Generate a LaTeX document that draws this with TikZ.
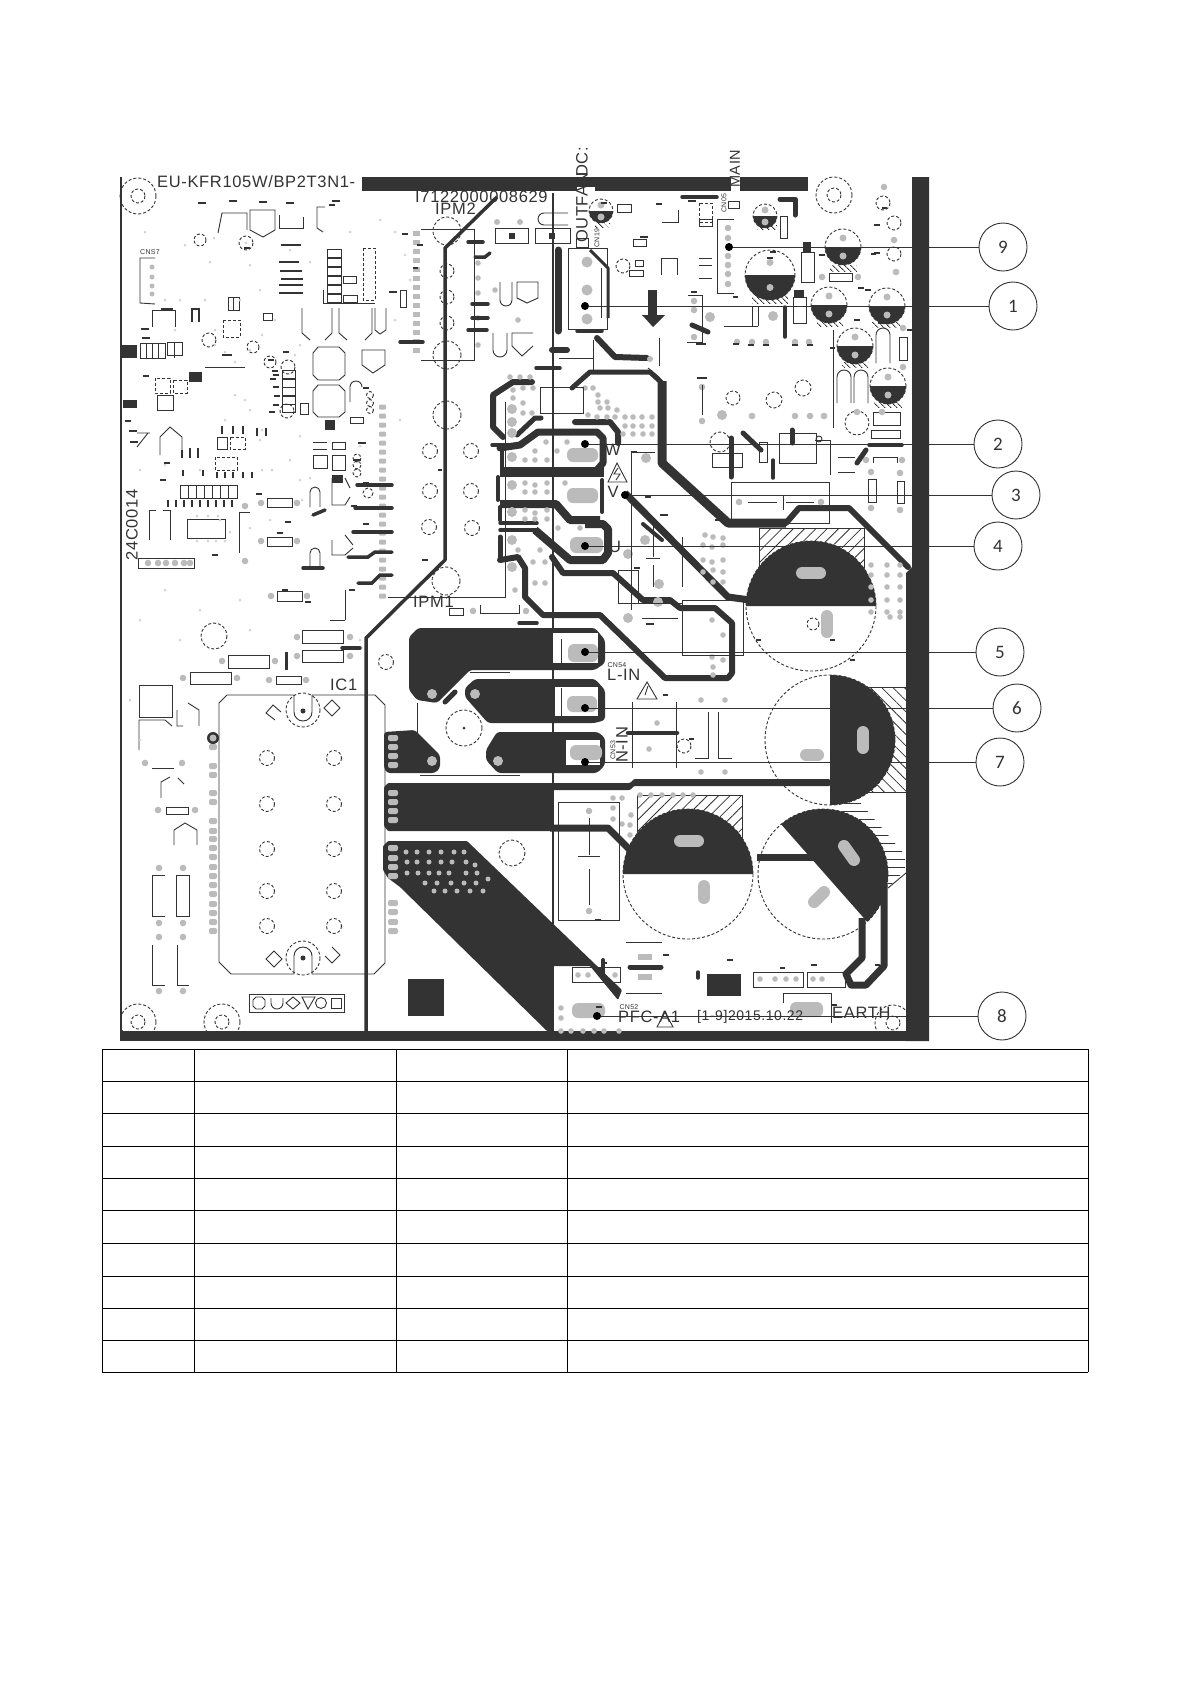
\documentclass[tikz,border=0pt]{standalone}
\usepackage{fontspec}
\usepackage{tikz}
\usetikzlibrary{patterns.meta}
\newfontfamily\pcbfont[LetterSpace=4]{Liberation Sans}
\newfontfamily\numfont{Carlito}
\definecolor{pcbdark}{HTML}{333333}
\definecolor{padgrey}{HTML}{BBBBBB}
\definecolor{fleck}{HTML}{D4D4D4}
\tikzset{
    % Copper
    pour/.style={fill=pcbdark, rounded corners=3pt},
    trace/.style={draw=pcbdark, line width=6pt, line join=round, line cap=round},
    wire/.style={draw=pcbdark, line width=3.5pt, line cap=round},
    % Silk screen
    silk/.style={draw=pcbdark, line width=0.9pt},
    hole/.style={draw=pcbdark, line width=0.9pt, dash pattern=on 3pt off 2pt},
    hatchbox/.style={draw=pcbdark, line width=0.7pt, pattern={Lines[angle=45,distance=8pt,line width=0.8pt]}, pattern color=pcbdark},
    minihatch/.style={pattern={Lines[angle=-45,distance=4pt,line width=1pt]}, pattern color=pcbdark},
    % Pads
    pad/.style={fill=padgrey},
    slot/.style={draw=padgrey, line width=12pt, line cap=round},
    smudge/.style={fill=pcbdark},
    % Labels
    pcblabel/.style={inner sep=0pt, text=pcbdark, font=\pcbfont\fontsize{16.5}{16.5}\selectfont},
    tinylabel/.style={inner sep=0pt, text=pcbdark, font=\pcbfont\fontsize{7}{7}\selectfont},
    % Call-outs
    callout/.style={circle, draw=pcbdark, line width=0.9pt, minimum size=48pt, inner sep=0pt, text=pcbdark, font=\numfont\fontsize{19}{19}\selectfont},
    leaddot/.style={circle, fill=black, inner sep=0pt, minimum size=8pt},
    leader/.style={draw=pcbdark, line width=1pt}
}
\newcommand{\elcap}[3]{% lower half dark, with its pads
    \draw[hole] (#1,#2) circle (#3);
    \fill[pcbdark] (#1-#3,#2) arc[start angle=180, end angle=0, radius=#3] -- cycle;
    \fill[pad] (#1,#2-#3/2) circle (3.5);
    \fill[pad] (#1,#2+#3/2) circle (3.5);
}
\begin{document}
\begin{tikzpicture}[x=1pt, y=-1pt]
    \useasboundingbox (0,0) rectangle (1191,1684);
    \fill[white] (0,0) rectangle (1191,1684);

    % Hatched keep-outs under the big capacitors
    \draw[hatchbox] (759,528) rectangle (864,590);
    \draw[hatchbox, pattern={Lines[angle=-45,distance=8pt,line width=0.8pt]}] (860,687) rectangle (906,792);
    \draw[hatchbox] (637,795) rectangle (742,840);
    \fill[pattern={Lines[angle=0,distance=8pt,line width=1pt]}, pattern color=pcbdark] (823,808) -- (858,800) -- (905,855) -- (905,870) -- (888,888) -- cycle;

    % Big capacitors
    \fill[white] (811,606) circle (65);
    \draw[hole] (811,606) circle (65);
    \fill[pcbdark] (746,606) arc[start angle=180, end angle=360, radius=65] -- cycle;
    \draw[slot] (802,573) -- (820,573);
    \draw[slot] (827,616) -- (827,632);
    \draw[hole] (813,624) circle (6);

    \fill[white] (830,740) circle (65);
    \draw[hole] (830,740) circle (65);
    \fill[pcbdark] (830,675) arc[start angle=-90, end angle=90, radius=65] -- cycle;
    \draw[slot] (863,732) -- (863,748);
    \draw[slot] (806,755) -- (818,755);

    \fill[white] (688,874) circle (65);
    \draw[hole] (688,874) circle (65);
    \fill[pcbdark] (623,874) arc[start angle=180, end angle=360, radius=65] -- cycle;
    \draw[slot] (680,841) -- (698,841);
    \draw[slot] (704,886) -- (704,898);

    \fill[white] (823,874) circle (65);
    \draw[hole] (823,874) circle (65);
    \begin{scope}
        \clip (823,874) circle (65);
        \fill[pcbdark] (780,823) -- (870,925) -- (950,850) -- (850,770) -- cycle;
    \end{scope}
    \draw[slot] (844,846) -- (854,860);
    \draw[slot] (814,902) -- (824,892);
    \draw[trace, line width=7pt, line cap=butt] (757,857) -- (815,857);
    \draw[trace, line width=7pt, line cap=butt] (862,918) -- (862,958) -- (846,974) -- (851,985) -- (866,985) -- (884,966) -- (884,885);
    \draw[silk] (912,868) -- (888,888);

    % Board edge
    \draw[silk, line width=1.3pt] (121,177) -- (121,1035);
    \fill[pcbdark] (120,1031) rectangle (929,1041);
    \fill[pcbdark] (362,177) rectangle (731,191);
    \fill[pcbdark] (740,177) rectangle (808,191);
    \fill[pcbdark] (912,177) -- (929,177) -- (929,1041) -- (906,1041) -- (906,573) -- (912,567) -- cycle;
    \fill[white] (577,187) rectangle (595,191);

    % Isolation line and HV rail
    \draw[silk, line width=1.2pt] (553,193) -- (553,1031);
    \draw[trace, line width=3.5pt, line cap=butt] (497,197) -- (445,248) -- (445,560) -- (366,638) -- (366,1031);

    % Copper pours of the input stage
    \fill[pour] (409,637) -- (418,628) -- (595,628) -- (605,640) -- (605,663) -- (595,670) -- (470,670) -- (437,703) -- (417,700) -- (409,690) -- cycle;
    \fill[pour] (465,688) -- (475,679) -- (595,679) -- (605,690) -- (605,720) -- (595,723) -- (488,723) -- (465,697) -- cycle;
    \fill[pour] (497,732) -- (598,732) -- (605,738) -- (605,765) -- (597,773) -- (498,773) -- (486,760) -- (486,750) -- cycle;
    \fill[pour] (384,732) -- (415,730) -- (440,755) -- (440,768) -- (435,773) -- (387,773) -- (384,768) -- cycle;
    \fill[pour, rounded corners=1pt] (384,787) -- (388,783) -- (630,783) -- (634,779) -- (830,779) -- (830,786) -- (634,786) -- (630,790) -- (553,790) -- (553,831) -- (388,831) -- (384,826) -- cycle;
    \draw[trace, line width=7pt, line cap=butt] (550,828) -- (608,828) -- (632,852);
    \fill[pour, rounded corners=1pt] (383,846) -- (388,841) -- (467,841) -- (622,990) -- (618,1000) -- (590,966) -- (553,966) -- (553,1031) -- (547,1031) -- (400,887) -- (388,878) -- (383,870) -- cycle;
    \draw[wire, line width=4pt] (603,960) -- (603,978);
    \fill[pcbdark] (408,979) rectangle (444,1016);
    \fill[pcbdark] (707,974) rectangle (741,996);
    \draw[trace, line width=5pt, rounded corners=2pt] (445,702) -- (455,692);
    \draw[silk] (417,703) -- (417,773) (470,672) -- (510,672) (420,775) -- (520,775);

    % Pad windows in the pours
    \fill[white] (553,633) rectangle (598,663);
    \fill[white] (555,687) rectangle (598,716);
    \fill[white] (566,740) rectangle (600,765);
    \fill[pad, rounded corners=6pt] (568,644) rectangle (598,662);
    \fill[pad, rounded corners=6pt] (567,696) rectangle (597,712);
    \fill[pad, rounded corners=6pt] (570,745) rectangle (602,760);
    \draw[silk] (561,639) -- (561,663);
    \draw[silk] (561,688) -- (561,716);
    \fill[pad, rounded corners=6pt] (572,1003) rectangle (605,1018);
    \fill[pad, rounded corners=6pt] (790,1002) rectangle (823,1017);

    % Phase output rings W V U
    \draw[trace] (532,382) -- (513,382) -- (493,395) -- (493,427) -- (503,437);
    \draw[trace, line width=5pt] (517,435) -- (535,418) -- (541,418);
    \draw[wire] (492,445) -- (518,445);
    \draw[trace, line width=7pt] (500,448) -- (520,445) -- (538,432) -- (597,432) -- (603,438) -- (603,463) -- (597,470);
    \draw[trace, line width=4pt] (502,448) -- (502,467);
    \fill[pcbdark] (500,467) rectangle (604,477);
    \draw[trace] (575,422) -- (610,422) -- (618,432) -- (618,443);
    \draw[trace, line width=4pt] (498,477) -- (498,500);
    \draw[trace, line width=8pt, line cap=butt] (500,504) -- (556,504) -- (570,520) -- (600,520);
    \draw[trace, line width=4pt] (602,480) -- (602,512);
    \draw[trace, line width=4pt] (500,507) -- (500,520);
    \draw[wire] (500,523) -- (537,523);
    \draw[wire] (500,530) -- (537,530);
    \draw[trace, line width=8pt, line cap=butt] (535,530) -- (570,560) -- (603,560) -- (608,553) -- (608,529) -- (603,524) -- (585,524);
    \draw[trace, line width=5pt] (500,537) -- (500,557);
    \draw[trace] (500,560) -- (518,557) -- (525,568) -- (525,597) -- (543,615) -- (600,615) -- (665,678) -- (728,678) -- (732,673) -- (732,623) -- (715,608) -- (680,608) -- (670,600) -- (643,600) -- (613,573) -- (563,573) -- (552,557);
    \draw[trace, line width=5pt] (572,388) -- (590,372) -- (650,372) -- (662,383);
    \draw[trace, line width=9pt, line cap=butt] (662,381) -- (662,463) -- (728,523) -- (786,523);
    \draw[trace] (786,523) -- (799,508) -- (849,508) -- (908,567);
    \draw[trace, line width=7pt, line cap=butt] (625,493) -- (728,597) -- (750,600);
    \draw[trace, line width=4pt] (643,524) -- (662,540);
    \draw[trace] (597,338) -- (615,357) -- (647,358);
    \fill[pad] (650,359) circle (3);
    \draw[silk] (648,368) -- (660,378);
    \fill[pad, rounded corners=6pt] (567,448) rectangle (598,462);
    \fill[pad, rounded corners=6pt] (567,488) rectangle (598,503);
    \fill[pad, rounded corners=6pt] (570,537) rectangle (603,553);

    % Grey pad groups
    \foreach \x/\y in {513/390,523/388,533/388,513/398,523/403,523/413,532/413,585/388,593/388,598/395,598/402,607/402,600/408,608/408,617/410,588/415,597/417,607/417,615/417,625/417,633/417,642/417,652/417,625/426,633/426,642/426,652/426,623/434,633/434,643/434,652/434,546/442,567/442,535/451,557/451,525/460,535/460,547/460,525/483,535/485,547/483,565/483,525/492,535/492,547/492,525/510,535/513,547/510,525/519,535/519,547/519,558/528,580/528,518/550,540/550,533/562,545/562,535/583,545/583,705/535,713/537,723/538,703/545,712/547,723/545,703/560,712/562,723/560,703/572,713/570,723/572,713/582,723/582,613/798,622/798,613/808,631/815,613/819,622/824,630/825,630/835,640/795,651/795,662/795,673/795,683/795,693/795,712/620,723/635,712/657,723/660,713/667,713/675,701/700,725/700,701/772,725/772,657/723,649/749,871/565,887/565,900/565,871/575,887/575,900/575,871/587,887/587,900/587,871/600,887/600,900/600,871/612,887/612,900/612,890/617,900/617,561/1008,561/1018,578/975,588/975,615/975,561/1031,571/1031,583/1031,594/1031,604/1031,619/1031,760/979,775/979,786/979,796/979,813/979,822/979,478/263,478/278,478/293,478/318,478/345,510/377,520/377,530/377,495/290,518/320,515/590}
        \fill[pad] (\x,\y) circle (2.8);
    \foreach \x/\y in {512/409,512/422,512/433,512/457,512/485,512/512,512/540,512/567,646/458,645/540,628/554,628/618,659/584,658/602,722/415,710/317,773/316,432/694,475/694,498/761,432/761}
        \fill[pad] (\x,\y) circle (5);

    % Pads along the pour edges
    \foreach \y in {738,747,756,765,793,802,811,820,848,858,867,876,903,912,922,931}
        \fill[pad, rounded corners=2pt] (388,\y-3) rectangle (398,\y+3);
    \foreach \y in {747,766,775,793,802,821,831,839,848,857,867,876,885,894,904,913,922,931}
        \fill[pad, rounded corners=2pt] (209,\y-3) rectangle (217,\y+3);
    \fill[pcbdark] (213,738) circle (6);
    \fill[pad] (213,738) circle (3.5);
    \foreach \y in {233,242,...,357}
        \fill[pad] (413,\y-2.5) rectangle (420,\y+2.5);
    \foreach \y in {407,416,...,600}
        \fill[pad, rounded corners=1pt] (379,\y-2.5) rectangle (386,\y+2.5);
    \foreach \x/\y in {406/852,417/852,429/852,441/852,454/852,464/852,407/862,417/862,429/862,441/862,452/862,466/862,475/865,407/873,418/873,429/873,439/873,449/873,466/873,477/873,425/883,437/883,451/883,464/883,476/883,488/879,434/891,445/891,457/891,470/891,483/891}
        \fill[pad] (\x,\y) circle (2.5);

    % IC1 outline and mounting holes
    \draw[silk] (227,695) -- (294,695) (312,695) -- (375,695) -- (385,705) -- (385,963) -- (374,974) -- (312,974) (294,974) -- (231,974) -- (219,962) -- (219,703) -- (227,695);
    \draw[hole] (303,710) circle (17);
    \draw[silk] (294,695) -- (294,712) arc[start angle=180, end angle=0, radius=9] -- (312,695);
    \fill[pcbdark] (303,711) circle (2.5);
    \draw[hole] (303,958) circle (17);
    \draw[silk] (294,974) -- (294,956) arc[start angle=180, end angle=360, radius=9] -- (312,974);
    \fill[pcbdark] (303,958) circle (2.5);
    \draw[silk] (332,700) -- (340,708) -- (332,716) -- (324,708) -- cycle;
    \draw[silk] (275,720) -- (266,713) -- (273,705) -- (281,712);
    \draw[silk] (274,951) -- (282,959) -- (274,967) -- (266,959) -- cycle;
    \draw[silk] (332,947) -- (340,955) -- (332,963) -- (325,956);
    \foreach \x in {267,334}
        \foreach \y in {758,804,849,891,926}
            \draw[hole] (\x,\y) circle (7.5);
    \draw[silk] (249,994) rectangle (344,1012);
    \draw[silk] (253,1000) -- (256,997) -- (262,997) -- (265,1000) -- (265,1006) -- (262,1009) -- (256,1009) -- (253,1006) -- cycle;
    \draw[silk] (271,998) -- (271,1003) arc[start angle=180, end angle=0, radius=6] -- (283,998);
    \draw[silk] (293,997) -- (300,1003) -- (293,1009) -- (286,1003) -- cycle;
    \draw[silk] (302,997) -- (315,997) -- (308,1009) -- cycle;
    \draw[silk] (321,1003) circle (5.5);
    \draw[silk] (331,998) rectangle (341,1008);

    % Mounting holes
    \foreach \x/\y in {138/196,834/195}
    {
        \draw[hole] (\x,\y) circle (18);
        \draw[hole] (\x,\y) circle (7);
    }
    \begin{scope}
        \clip (120,960) rectangle (906,1031);
        \foreach \x/\y in {138/1022,222/1022,893/1023}
        {
            \draw[hole] (\x,\y) circle (18);
            \draw[hole] (\x,\y) circle (7);
        }
    \end{scope}

    % Dashed circles on the heat-sink strip
    \foreach \x/\y/\r in {447/231/14,447/271/7,447/297/7,447/323/7,447/355/14,447/415/14,430/451/7.5,471/451/7.5,430/491/7.5,471/491/7.5,429/527/7.5,472/528/7.5,446/581/14,214/636/13,386/662/7.5,512/853/13,803/388/8,774/400/8,733/398/7,857/423/12,883/203/7,894/223/7,894/254/7,720/442/10,684/746/7}
        \draw[hole] (\x,\y) circle (\r);
    \draw[hole] (464,728) circle (18);
    \fill[pcbdark] (464,728) circle (1.5);
    \draw[silk] (421,229) -- (474,229) -- (474,360) -- (421,360);
    \draw[silk] (388,597) -- (505,597) -- (505,402);

    % Short fat wires in the IPM column
    \foreach \xa/\ya/\xb/\yb in {468/242/483/242,472/304/488/304,472/318/488/318,468/330/487/330,400/342/423/342,536/368/560/368,357/485/392/485,355/508/392/508,353/532/392/532,303/568/323/568,313/515/325/510,519/623/537/623,342/648/360/648,682/197/717/197,869/445/902/445}
        \draw[wire] (\xa,\ya) -- (\xb,\yb);
    \draw[wire] (475,257) -- (485,257) -- (490,253);
    \draw[wire] (348,557) -- (368,557) -- (375,552) -- (392,552);
    \draw[wire] (358,583) -- (372,583) -- (380,575) -- (392,575);
    \draw[trace, line width=7pt] (558,250) -- (558,331);
    \draw[wire] (577,331) -- (602,331);
    \draw[wire, line width=6pt] (552,350) -- (567,350);
    \draw[silk] (559,358) -- (593,358) (593,340) -- (593,370);
    \draw[silk] (659,338) -- (659,366);

    % Connectors and boxes, upper middle
    \draw[silk] (495,228) rectangle (528,243);
    \draw[silk] (535,228) rectangle (570,243);
    \fill[smudge] (509,233) rectangle (515,239);
    \fill[smudge] (549,233) rectangle (555,239);
    \foreach \x/\y in {497/222,520/222} \fill[pad] (\x,\y) circle (3);
    \draw[silk] (568,225) -- (544,225) arc[start angle=90, end angle=270, radius=6] -- (568,213);
    \draw[silk] (568,248) rectangle (607,329);
    \draw[trace, line width=3pt, line cap=butt] (590,250) -- (608,268) -- (608,318);
    \draw[silk] (601,268) -- (601,318);
    \foreach \y in {262,290,319} \fill[pad] (587,\y) circle (5.5);
    \draw[silk] (576,238) rectangle (588,247);
    \fill[smudge] (648,290) rectangle (657,315);
    \fill[smudge] (642,315) -- (665,315) -- (653,327) -- cycle;
    \foreach \x/\y/\w/\h in {617/204/14/8,633/239/13/7,635/260/8/6,629/270/14/6,699/219/13/7,728/201/11/7,780/216/7/22,327/249/14/8,327/258/14/8,327/267/14/8,327/276/14/8,327/285/14/8,327/294/14/8,343/276/13/7,343/295/14/7,400/290/6/17,282/370/13/8,282/379/13/8,282/387/13/8,282/396/13/8,282/404/13/8,166/807/22/7,267/498/25/9,267/537/25/9,277/591/25/10,302/630/41/13,302/650/41/12,228/655/41/13,190/672/41/12,276/676/25/8,829/273/23/8,899/337/8/23,868/479/8/23,897/481/7/22,759/442/8/20,731/482/98/41,712/453/30/14,779/433/37/30,873/412/27/13,871/430/29/8,753/972/50/15,807/972/38/15,139/685/33/32,180/485/57/13,187/519/38/19,138/558/56/10,140/343/25/15,167/342/15/13,618/570/20/33,682/600/61/55,558/802/61/118,572/967/48/15,228/297/11/13,263/313/9/7,300/403/8/11,157/395/16/15,217/437/10/12,350/417/13/6,332/442/13/7,313/455/14/13,332/455/13/15}
        \draw[silk] (\x,\y) rectangle ++(\w,\h);
    \draw[silk] (783,1003) -- (783,993) -- (831,993) -- (831,1023);
    \foreach \x in {188,196,204,212,220,228} \draw[silk] (\x,485) -- (\x,498);
    \foreach \x in {146,152,158,174} \draw[silk] (\x,343) -- (\x,358);
    \fill[pcbdark] (121,345) rectangle (137,358);
    \fill[pcbdark] (123,400) rectangle (137,408);
    \fill[pcbdark] (189,372) rectangle (202,382);
    \fill[pcbdark] (325,420) rectangle (335,430);
    \fill[pcbdark] (332,475) rectangle (343,483);
    \draw[silk] (155,258) -- (140,258) -- (140,303) -- (155,304);
    \foreach \y in {267,277,286,294} \fill[pad] (152,\y) circle (2.5);
    \foreach \x/\y in {148/563,158/563,166/563,175/563,184/563,190/563,261/503,297/503,261/541,297/541,271/596,307/596,245/506,245/561,297/637,350/637,297/656,350/656,222/661,275/661,183/678,237/678,269/680,306/680,158/810,195/810,159/868,183/868,159/923,183/923,159/937,183/937,159/991,183/991,145/763,182/763,822/277,858/277,903/328,903/367,871/472,871/508,900/473,900/510,866/460,902/460,739/502,821/502,589/811,589/911,694/301,694/310,694/337,702/387,702/421,473/611,526/611,737/342,752/342,766/342,795/342,809/342,723/416,752/416,795/416,810/416,824/416,728/228,728/238,728/256,728/265,728/274,728/284,884/187,857/412,882/412,894/240,896/272}
        \fill[pad] (\x,\y) circle (3.3);
    \draw[silk] (239,553) -- (239,512) -- (250,512);
    \draw[silk] (480,605) -- (480,613) -- (519,613) -- (519,605);
    \draw[silk] (449,608) rectangle (463,615);
    \draw[silk] (323,290) -- (323,303) -- (375,303);
    \draw[hole] (363,248) rectangle (375,300);
    \draw[silk] (540,387) rectangle (583,413);
    \draw[silk] (631,610) -- (631,452) -- (655,452);
    \draw[silk] (631,603) -- (682,603);
    \draw[silk] (682,537) -- (682,587);
    \draw[silk] (653,523) -- (653,557) (646,558) -- (660,558) (653,565) -- (653,587);
    \draw[silk] (642,618) -- (678,618);

    % Capacitor and regulator outlines, left side
    \foreach \xa/\xb/\ya/\yb in {302/332/308/333,339/372/308/333}
        \draw[silk] (\xa,\ya) -- (\xa,\yb) -- (\xa+8,\yb+7) (\xb,\ya) -- (\xb,\yb) -- (\xb-7,\yb+7);
    \draw[silk] (375,308) -- (375,330) -- (380,334) -- (386,330) -- (386,308);
    \draw[silk] (318,347) -- (339,347) -- (345,353) -- (345,375) -- (339,380) -- (318,380) -- (313,375) -- (313,353) -- cycle;
    \draw[silk] (318,385) -- (339,385) -- (345,391) -- (345,412) -- (339,417) -- (318,417) -- (313,412) -- (313,391) -- cycle;
    \draw[silk] (362,350) -- (362,365) -- (373,373) -- (385,365) -- (385,350) -- cycle;
    \draw[silk] (218,233) -- (222,213) -- (247,213) -- (247,230);
    \draw[silk] (250,230) -- (250,210) -- (275,210) -- (275,230) -- (263,237) -- cycle;
    \draw[silk] (279,215) -- (279,228) -- (303,228) -- (303,217);
    \draw[silk] (325,207) -- (317,207) -- (317,228) -- (323,232);
    \draw[silk] (149,540) -- (149,510) -- (156,510) (163,510) -- (170,510) -- (170,540);
    \draw[silk] (310,507) -- (310,492) arc[start angle=180, end angle=360, radius=5] -- (320,507);
    \draw[silk] (310,568) -- (310,553) arc[start angle=180, end angle=360, radius=5] -- (320,568);
    \draw[silk] (332,478) -- (332,505) -- (345,505) -- (350,497) (345,478) -- (350,488);
    \draw[silk] (332,540) -- (332,555) -- (345,555) -- (353,548) (345,535) -- (353,545);
    \draw[silk] (345,590) -- (345,620) (330,620) -- (345,620);
    \draw[silk] (177,710) -- (177,726) -- (183,726) (199,726) -- (199,710) -- (188,703);
    \draw[silk] (139,750) -- (139,720) -- (165,720) -- (172,726);
    \draw[silk] (152,768) -- (174,768);
    \draw[silk] (165,875) -- (152,875) -- (152,916) -- (165,916);
    \draw[silk] (189,875) -- (176,875) -- (176,916) -- (189,916) -- cycle;
    \draw[silk] (152,945) -- (152,985) -- (165,985);
    \draw[silk] (177,945) -- (177,985) -- (189,985);
    \draw[silk] (174,845) -- (174,830) -- (185,823) -- (197,830) -- (197,845);
    \draw[silk] (161,798) -- (161,782) -- (170,777) (178,778) -- (184,784);
    \draw[silk, line width=3pt] (286,652) -- (286,670);
    \draw[silk] (500,300) -- (500,282) (512,300) -- (512,282) (500,300) arc[start angle=180, end angle=0, radius=6];
    \draw[silk] (517,298) -- (517,282) -- (538,282) -- (538,298) -- (527,303) -- cycle;
    \draw[silk] (493,333) -- (493,350) arc[start angle=180, end angle=0, radius=7] -- (507,333);
    \draw[silk] (533,333) -- (512,333) -- (512,346) -- (522,356) -- (533,346);

    % Control section parts and marks
    \draw[hole] (155,378) rectangle (170,393);
    \draw[hole] (173,380) rectangle (187,393);
    \draw[hole] (223,320) rectangle (240,337);
    \draw[hole] (215,457) rectangle (237,470);
    \draw[hole] (230,437) rectangle (245,449);
    \draw[silk] (233,297) -- (233,310);
    \draw[silk] (152,310) -- (152,327) (175,310) -- (175,327) (152,310) -- (175,310);
    \draw[silk] (205,367) -- (245,367);
    \draw[silk] (160,455) -- (160,437) -- (170,427) -- (182,437) -- (182,455);
    \draw[silk] (137,447) -- (148,433) (137,433) -- (150,433);
    \draw[silk] (350,402) -- (350,387) arc[start angle=180, end angle=360, radius=6];
    \draw[silk] (313,442) -- (327,442) (313,449) -- (327,449);
    \foreach \x/\y/\r in {200/240/6,246/243/7,270/362/6,288/367/7,287/411/7,253/347/6,370/395/3.5,370/403/3.5,370/410/3.5,357/458/4,357/465/4,357/473/4,368/493/5,209/340/7}
        \draw[hole] (\x,\y) circle (\r);
    \foreach \x/\ya/\yb in {192/308/322,199/308/322,182/450/458,190/448/458,198/448/458,222/426/434,233/426/434,243/426/434,257/428/436,266/428/436,183/470/476,203/470/476,217/472/478,225/472/478,233/472/478,243/472/478,252/472/478,168/500/507,176/500/507,184/500/507,192/500/507,200/500/507,208/500/507,216/500/507,224/500/507,232/500/507}
        \draw[silk, line width=2pt] (\x,\ya) -- (\x,\yb);

    % Small electrolytics, upper right
    \fill[minihatch] (752,293) rectangle (788,303);
    \fill[minihatch] (830,265) rectangle (857,271);
    \fill[minihatch] (817,322) rectangle (843,326);
    \fill[minihatch] (872,322) rectangle (900,327);
    \fill[minihatch] (842,362) rectangle (868,367);
    \fill[minihatch] (874,402) rectangle (902,407);
    \fill[minihatch] (757,225) rectangle (777,229);
    \fill[minihatch] (595,223) rectangle (610,227);
    \elcap{770}{275}{25}
    \elcap{843}{247}{18}
    \elcap{829}{305}{18}
    \elcap{887}{306}{18}
    \elcap{855}{346}{18}
    \elcap{888}{386}{18}
    \elcap{765}{216}{12}
    \elcap{601}{211}{12}

    % Parts around the small electrolytics
    \draw[silk] (833,330) -- (833,428);
    \draw[silk] (837,403) -- (837,377) arc[start angle=180, end angle=360, radius=7] -- (851,403);
    \draw[silk] (854,403) -- (854,377) arc[start angle=180, end angle=360, radius=7] -- (868,403);
    \draw[silk] (876,363) -- (876,335) arc[start angle=180, end angle=360, radius=7] -- (890,363);
    \draw[trace, line width=5pt] (780,199) -- (795,199) -- (795,215);
    \draw[silk] (801,282) -- (801,252) -- (814,252) -- (814,282) -- cycle;
    \fill[pcbdark] (803,242) rectangle (811,252);
    \draw[silk] (793,323) -- (793,297) -- (806,297) -- (806,323) -- cycle;
    \fill[pcbdark] (794,290) rectangle (804,297);
    \draw[wire] (785,307) -- (785,337);
    \draw[silk] (724,306) -- (757,306) (752,307) -- (752,326) (758,307) -- (758,326) (724,326) -- (758,326);
    \draw[silk] (734,219) -- (717,219) -- (717,293) -- (734,293);
    \draw[silk] (688,295) -- (702,295) -- (702,342) -- (687,342);
    \draw[trace, line width=5pt] (692,325) -- (708,332);
    \draw[silk] (661,275) -- (661,258) -- (677,258) -- (677,275);
    \draw[silk] (678,210) -- (678,222) -- (662,222);
    \draw[hole] (699,203) rectangle (712,222);
    \draw[silk] (699,258) -- (712,258) (699,265) -- (712,265) (699,278) -- (712,278);
    \draw[silk] (702,385) -- (702,415);
    \draw[hole] (623,266) circle (7);

    % Snubber and relay zone, middle right
    \draw[trace, line width=5pt] (731,438) -- (731,477);
    \draw[trace, line width=5pt] (743,433) -- (761,450);
    \draw[wire] (773,460) -- (773,478);
    \draw[trace, line width=5pt] (792,430) -- (792,443);
    \draw[silk] (815,440) -- (830,440) -- (830,475) (748,502) -- (777,502) (783,495) -- (783,510) (786,502) -- (814,502);
    \draw[silk] (819,439) circle (3);
    \draw[silk] (838,457) -- (855,457) (838,472) -- (855,472);
    \draw[trace, line width=5pt] (857,463) -- (866,450);
    \draw[silk] (873,463) -- (873,457) -- (897,457) -- (897,463);

    % Low voltage block near CN54
    \draw[silk] (632,702) -- (632,768) (676,702) -- (676,768);
    \draw[wire, line width=4.5pt] (628,733) -- (677,733);
    \draw[silk] (708,712) -- (708,758) -- (695,758) (718,712) -- (718,758) -- (732,758);
    \draw[silk] (589,818) -- (589,855) (578,856) -- (600,856) (589,869) -- (589,905);
    \draw[trace, line width=5pt] (630,967) -- (661,967);
    \draw[draw=padgrey, line width=6pt] (638,957) -- (652,957) (638,977) -- (652,977);
    \draw[silk] (626,942) -- (662,942) (626,993) -- (662,993);
    \draw[wire] (698,972) -- (698,978);

    % Warning triangles
    \draw[silk] (617,463) -- (627,482) -- (608,482) -- cycle (618,468) -- (614,474) -- (620,474) -- (616,480);
    \draw[silk] (647,682) -- (657,699) -- (637,699) -- cycle (648,686) -- (645,695);
    \draw[silk] (665,1012) -- (673,1027) -- (657,1027) -- cycle;

    % Faint flecks on the control section
    \foreach \x/\y in {145/232,165/300,185/245,210/262,240/300,175/330,215/330,250/265,260/290,275/320,250/350,235/395,260/440,200/470,220/520,270/520,300/480,165/590,200/610,240/600,140/620,180/640,250/630,130/700,140/740,290/250,310/262,350/232,380/220,395/232,405/255,410/280,395/320,400/420,360/640,290/460,245/400,225/420,295/355,140/470,165/465,214/238,246/243,180/300,205/300,262/335,300/345,215/345,225/352,235/362,250/410,262/430,300/436,310/478,302/500,360/446,262/470,272/470,218/516,250/528,230/532,208/516,197/516,197/541,208/541,216/541,225/541}
        \fill[fleck] (\x,\y) circle (1.5);

    % Tiny marks standing for the smudged part names
    \foreach \x/\y/\w in {202/203/8,233/201/8,263/202/8,290/203/8,336/201/8,247/248/6,291/245/20,289/262/20,291/271/22,292/279/22,291/285/24,291/293/24,167/309/12,195/309/8,145/329/8,146/338/8,227/355/10,276/375/6,286/352/6,271/360/6,275/371/6,273/379/6,276/387/6,277/396/6,276/405/6,272/412/6,146/376/6,133/404/8,128/421/6,133/431/8,134/442/8,167/463/6,163/480/6,288/522/6,215/555/6,259/494/6,280/533/6,285/590/6,332/205/6,420/245/6,415/268/5,440/470/4,425/560/6,362/443/8,357/460/8,366/483/6,354/506/6,366/524/6,352/590/6,308/602/6,366/388/6,393/292/8,405/234/6,604/203/6,692/201/8,659/204/6,644/237/8,701/344/10,736/344/6,751/345/6,766/345/6,795/345/6,810/345/6,694/292/6,702/378/10,634/452/6,648/497/6,664/515/8,718/520/6,637/568/6,650/624/8,665/695/5,691/739/5,758/640/5,852/660/5,832/640/5,836/254/6,822/255/6,861/288/6,868/290/6,881/323/6,857/320/6,910/330/6,877/253/6,884/208/5,877/225/6,873/254/5,832/348/5,773/252/6,735/297/5,770/258/6,599/1007/6,601/969/6,666/955/6,598/920/6,604/963/6,782/968/5,834/1005/6,730/960/6,814/965/6,877/965/5}
        \fill[smudge] (\x-\w/2,\y-1.2) rectangle (\x+\w/2,\y+1.2);

    % Board text
    \node[pcblabel, anchor=west] (boardname) at (157,182) {EU-KFR105W/BP2T3N1-};
    \node[pcblabel, anchor=west] (serial) at (415,197) {I7122000008629};
    \node[pcblabel, anchor=west] (ipmtwo) at (435,209) {IPM2};
    \node[pcblabel, anchor=west] (ipmone) at (413,602) {IPM1};
    \node[pcblabel, anchor=west] (icone) at (330,685) {IC1};
    \node[pcblabel, rotate=90] (eeprom) at (132,525) {24C0014};
    \node[pcblabel, rotate=90] (dcin) at (582,162) {DC:};
    \node[pcblabel, rotate=90, anchor=west] (outfan) at (582,243) {OUTFAN};
    \node[pcblabel, rotate=90, anchor=west, font=\pcbfont\fontsize{14.5}{14.5}\selectfont] (mainin) at (735,188) {MAIN};
    \node[pcblabel] (wphase) at (613,450) {W};
    \node[pcblabel] (vphase) at (613,492) {V};
    \node[pcblabel] (uphase) at (615,547) {U};
    \node[pcblabel, anchor=west] (linein) at (607,675) {L-IN};
    \node[pcblabel, rotate=90, anchor=west] (nin) at (622,763) {N-IN};
    \node[pcblabel, anchor=west] (pfcname) at (618,1017) {PFC-A1};
    \node[pcblabel, anchor=west, font=\pcbfont\fontsize{14}{14}\selectfont] (datecode) at (697,1017) {[1-9]2015.10.22};
    \node[pcblabel, anchor=west] (earth) at (832,1013) {EARTH};
    \node[tinylabel] (cnsseven) at (150,252) {CNS7};
    \node[tinylabel, rotate=90] (cnnineteen) at (597,238) {CN19};
    \node[tinylabel, rotate=90] (cnfive) at (724,203) {CN05};
    \node[tinylabel, rotate=90] (cnfiftythree) at (613,750) {CN53};
    \node[tinylabel] (cnfiftyfour) at (617,665) {CN54};
    \node[tinylabel] (cnfiftytwo) at (629,1007) {CN52};

    % Call-outs
    \node[leaddot] (dot1) at (585,306) {};
    \node[leaddot] (dot2) at (585,444) {};
    \node[leaddot] (dot3) at (625,495) {};
    \node[leaddot] (dot4) at (585,546) {};
    \node[leaddot] (dot5) at (585,652) {};
    \node[leaddot] (dot6) at (585,708) {};
    \node[leaddot] (dot7) at (585,762) {};
    \node[leaddot] (dot8) at (597,1016) {};
    \node[leaddot] (dot9) at (729,247) {};
    \node[callout] (call1) at (1013,306) {1};
    \node[callout] (call2) at (998,444) {2};
    \node[callout] (call3) at (1016,495) {3};
    \node[callout] (call4) at (998,546) {4};
    \node[callout] (call5) at (1000,652) {5};
    \node[callout] (call6) at (1017,708) {6};
    \node[callout] (call7) at (1000,762) {7};
    \node[callout] (call8) at (1002,1016) {8};
    \node[callout] (call9) at (1003,247) {9};
    \foreach \n in {1,...,9}
        \draw[leader] (dot\n) -- (call\n);

    % Empty table under the board
    \foreach \y in {1049,1081.3,1113.6,1146,1178,1210.5,1243.5,1276,1308,1340,1372}
        \draw[black, line width=0.9pt] (102,\y) -- (1088,\y);
    \foreach \x in {102,194,396,567,1088}
        \draw[black, line width=0.9pt] (\x,1049) -- (\x,1372);
\end{tikzpicture}
\end{document}
